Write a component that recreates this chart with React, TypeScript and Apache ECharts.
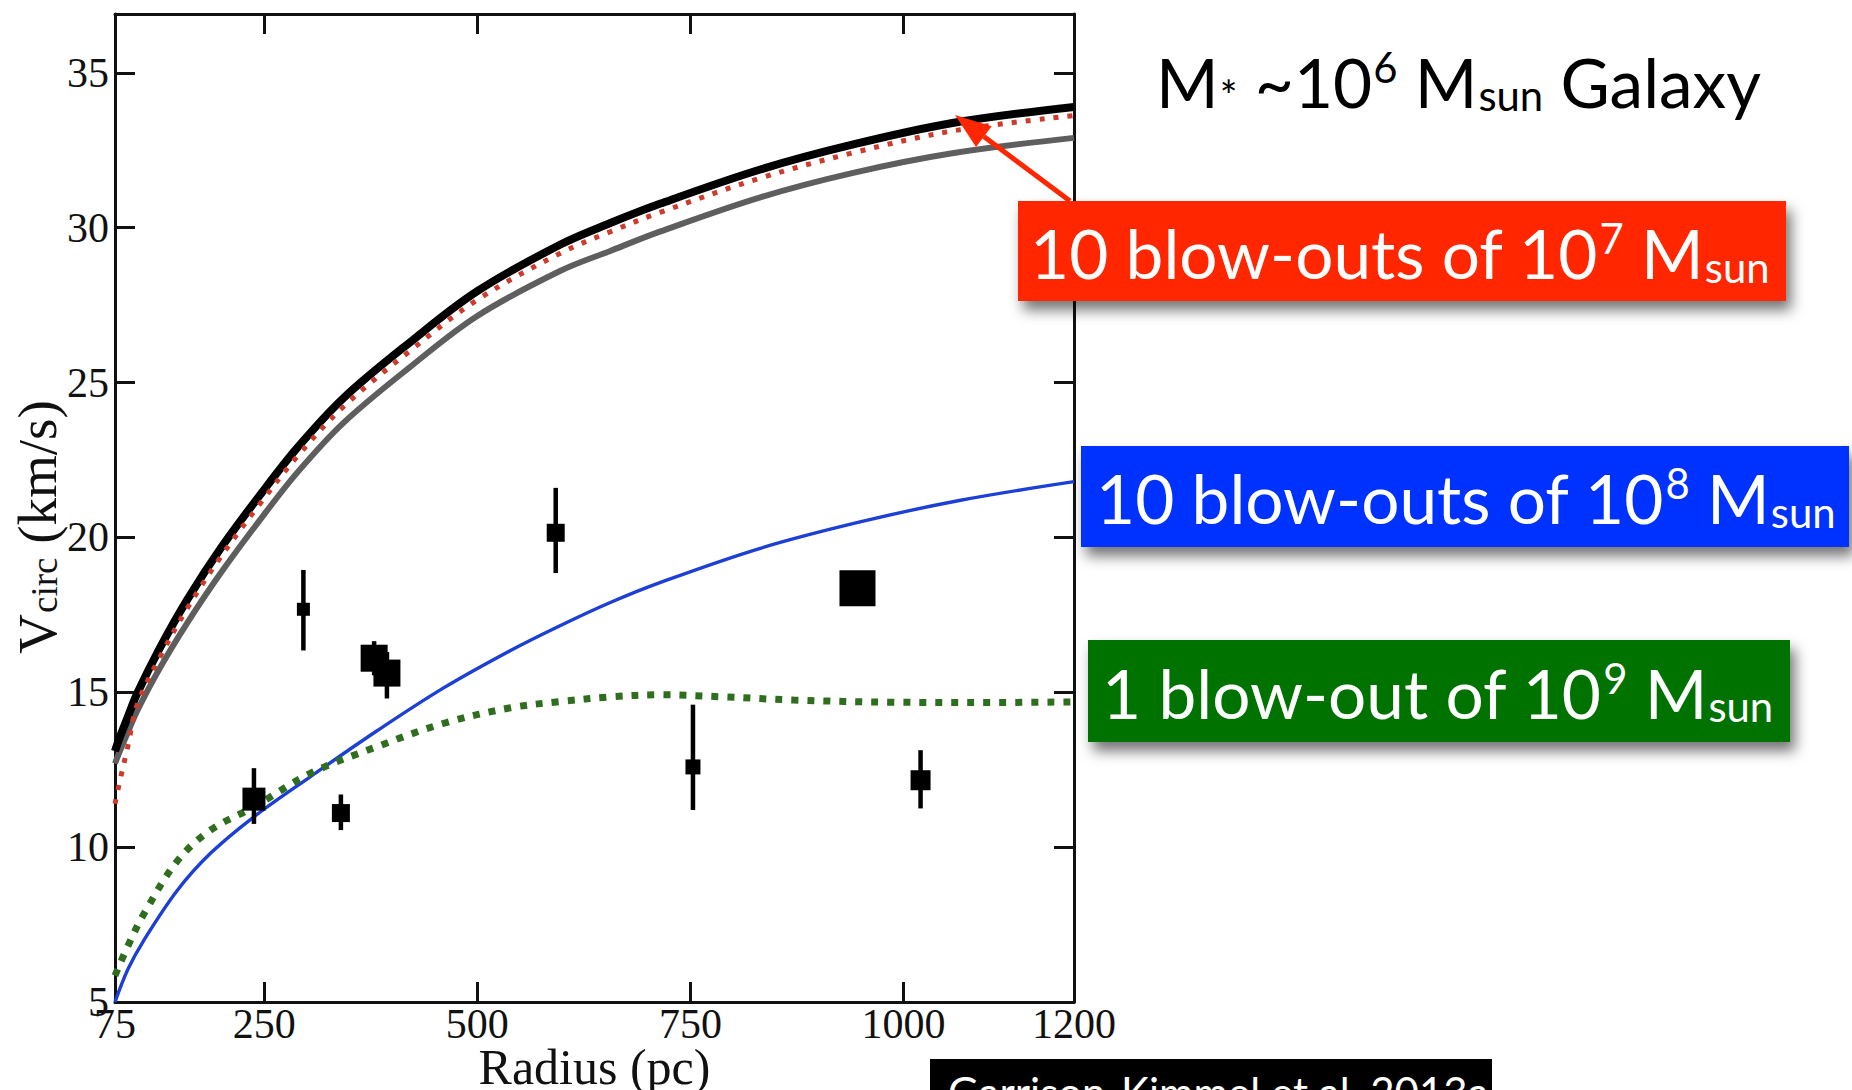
import React, { useEffect, useRef } from "react";
import * as echarts from "echarts";

// ---------------- data ----------------
const RADIUS_PC = [75, 80, 90, 101, 128, 160, 199, 246, 289, 343, 421, 500, 597, 656, 715, 832, 941, 1059, 1200];
const VCIRC_FIDUCIAL = [13.1, 13.5, 14.2, 14.96, 16.45, 18.0, 19.65, 21.4, 22.9, 24.5, 26.3, 27.95, 29.45, 30.15, 30.78, 31.88, 32.69, 33.39, 33.9];
const VCIRC_GRAY = [12.7, 13.05, 13.7, 14.4, 15.8, 17.25, 18.85, 20.6, 22.1, 23.7, 25.5, 27.15, 28.6, 29.25, 29.88, 30.98, 31.77, 32.41, 32.9];
const VCIRC_1E7 = [11.4, 12.05, 13.25, 14.6, 16.15, 17.72, 19.37, 21.12, 22.62, 24.22, 26.02, 27.67, 29.17, 29.87, 30.5, 31.6, 32.42, 33.13, 33.62];

const RADIUS_BLUE = [75, 90, 109, 148, 187, 238, 304, 382, 461, 539, 597, 656, 715, 832, 949, 1067, 1200];
const VCIRC_1E8 = [5.0, 6.05, 7.0, 8.6, 9.8, 10.98, 12.27, 13.75, 15.15, 16.35, 17.15, 17.9, 18.55, 19.65, 20.5, 21.2, 21.8];

const RADIUS_GREEN = [75, 90, 109, 148, 187, 238, 304, 382, 461, 539, 597, 656, 715, 790, 871, 988, 1100, 1200];
const VCIRC_1E9 = [5.85, 6.8, 7.85, 9.55, 10.55, 11.3, 12.38, 13.24, 14.0, 14.5, 14.7, 14.85, 14.92, 14.85, 14.75, 14.68, 14.67, 14.69];

const OBS_R = [238, 296, 379, 394, 340, 592, 753, 946, 1020];
const OBS_V = [11.55, 17.68, 16.1, 15.62, 11.1, 20.15, 12.59, 18.36, 12.16];
const OBS_LO = [10.75, 16.35, 15.55, 14.8, 10.55, 18.85, 11.2, 18.36, 11.25];
const OBS_HI = [12.55, 18.95, 16.65, 16.3, 11.7, 21.6, 14.6, 18.36, 13.13];
const OBS_SIZE = [23, 13, 27, 27, 18, 18, 15, 36, 20];

const X_LABELS = [75, 250, 500, 750, 1000, 1200];
const X_TICKS = [250, 500, 750, 1000];
const Y_LABELS = [5, 10, 15, 20, 25, 30, 35];
const Y_TICKS = [10, 15, 20, 25, 30, 35];

const TITLE_TEXT = "{m|M}{sub|*}{m| ~10}{sup|6}{m| M}{sub|sun}{m| Galaxy}";
const RED_LABEL = "{m|10 blow-outs of 10}{sup|7}{m| M}{sub|sun}";
const BLUE_LABEL = "{m|10 blow-outs of 10}{sup|8}{m| M}{sub|sun}";
const GREEN_LABEL = "{m|1 blow-out of 10}{sup|9}{m| M}{sub|sun}";
const CITATION = "Garrison-Kimmel et al. 2013a";

const SERIF = '"Liberation Serif", "Times New Roman", serif';
const SANS = 'Lato, "Noto Sans", sans-serif';

function pairs(xs: number[], ys: number[]) {
  return xs.map((x, i) => [x, ys[i]]);
}

function slideRich(F: number, color: string) {
  const P = 0.1 * F;
  const S = 0.62 * F;
  return {
    m: { fontSize: F, fontFamily: SANS, fill: color, lineHeight: F, verticalAlign: "top", padding: [P, 0, 0, 0] },
    sup: { fontSize: S, fontFamily: SANS, fill: color, lineHeight: S, verticalAlign: "top", padding: [P - 0.02 * F, 0, 0, 1] },
    sub: { fontSize: S, fontFamily: SANS, fill: color, lineHeight: S, verticalAlign: "top", padding: [0.5 * F, 0, 0, 1] },
  };
}

export default function App() {
  const ref = useRef<HTMLDivElement>(null);

  useEffect(() => {
    if (!ref.current) return;
    const chart = echarts.init(ref.current, undefined, { renderer: "svg" });
    const F = 67.5;
    const top = (capCenter: number) => capCenter - 0.6 * F;

    // arrow geometry (annotation)
    const tipX = 955, tipY = 115, tailX = 1070, tailY = 201;
    const dx = tailX - tipX, dy = tailY - tipY;
    const len = Math.sqrt(dx * dx + dy * dy);
    const ux = dx / len, uy = dy / len;
    const headL = 36, headW = 13;
    const bx = tipX + ux * headL, by = tipY + uy * headL;

    const axisLine = { show: true, lineStyle: { color: "#111", width: 3 } };
    const tickStyle = { color: "#111", width: 3 };
    const plain = (v: number) => String(v);

    const option: any = {
      animation: false,
      backgroundColor: "#ffffff",
      grid: { left: 115, right: 778, top: 14, bottom: 88, containLabel: false, outerBoundsMode: "none" },
      xAxis: [
        {
          type: "value", min: 75, max: 1200, position: "bottom",
          axisLine, splitLine: { show: false },
          axisTick: { show: true, inside: true, length: 20, lineStyle: tickStyle, customValues: X_TICKS },
          axisLabel: { customValues: X_LABELS, formatter: plain, fontFamily: SERIF, fontSize: 42, color: "#111", margin: 1 },
          name: "Radius (pc)", nameLocation: "middle", nameGap: 40, nameMoveOverlap: false,
          nameTextStyle: { fontFamily: SERIF, fontSize: 50, color: "#111" },
        },
        {
          type: "value", min: 75, max: 1200, position: "top",
          axisLine, splitLine: { show: false },
          axisTick: { show: true, inside: true, length: 20, lineStyle: tickStyle, customValues: X_TICKS },
          axisLabel: { show: false },
        },
      ],
      yAxis: [
        {
          type: "value", min: 5, max: 36.9, position: "left",
          axisLine, splitLine: { show: false },
          axisTick: { show: true, inside: true, length: 20, lineStyle: tickStyle, customValues: Y_TICKS },
          axisLabel: { customValues: Y_LABELS, formatter: plain, fontFamily: SERIF, fontSize: 42, color: "#111", margin: 6 },
          name: "{m|V}{s|circ}{e| (km/s)}", nameLocation: "middle", nameGap: 50, nameMoveOverlap: false,
          nameTextStyle: {
            rich: {
              m: { fontFamily: SERIF, fontSize: 55, color: "#111", lineHeight: 55, verticalAlign: "top", padding: [0, 0, 0, 0] },
              s: { fontFamily: SERIF, fontSize: 37, color: "#111", lineHeight: 37, verticalAlign: "top", padding: [16, 0, 0, 1] },
              e: { fontFamily: SERIF, fontSize: 55, color: "#111", lineHeight: 55, verticalAlign: "top", padding: [0, 38, 0, 0] },
            },
          },
        },
        {
          type: "value", min: 5, max: 36.9, position: "right",
          axisLine, splitLine: { show: false },
          axisTick: { show: true, inside: true, length: 20, lineStyle: tickStyle, customValues: Y_TICKS },
          axisLabel: { show: false },
        },
      ],
      series: [
        {
          name: "gray", type: "line", data: pairs(RADIUS_PC, VCIRC_GRAY), showSymbol: false,
          smooth: 0.35, lineStyle: { color: "#5e5e5e", width: 6 }, z: 2,
        },
        {
          name: "fiducial", type: "line", data: pairs(RADIUS_PC, VCIRC_FIDUCIAL), showSymbol: false,
          smooth: 0.35, lineStyle: { color: "#000000", width: 8 }, z: 3,
        },
        {
          name: "10 blow-outs of 1e7", type: "line", data: pairs(RADIUS_PC, VCIRC_1E7), showSymbol: false,
          smooth: 0.35, lineStyle: { color: "#cc3b2b", width: 5, type: [5, 9], cap: "butt" }, z: 4,
        },
        {
          name: "10 blow-outs of 1e8", type: "line", data: pairs(RADIUS_BLUE, VCIRC_1E8), showSymbol: false,
          smooth: 0.35, lineStyle: { color: "#1c3fd6", width: 3.4 }, z: 4,
        },
        {
          name: "1 blow-out of 1e9", type: "line", data: pairs(RADIUS_GREEN, VCIRC_1E9), showSymbol: false,
          smooth: 0.35, lineStyle: { color: "#2f6e1e", width: 7, type: [7, 9], cap: "butt" }, z: 4,
        },
        {
          name: "error bars", type: "custom", z: 5,
          encode: { x: 0, y: [1, 2] },
          data: OBS_R.map((r, i) => [r, OBS_LO[i], OBS_HI[i]]),
          renderItem: (params: any, api: any) => {
            const p1 = api.coord([api.value(0), api.value(1)]);
            const p2 = api.coord([api.value(0), api.value(2)]);
            return {
              type: "line",
              shape: { x1: p1[0], y1: p1[1], x2: p2[0], y2: p2[1] },
              style: { stroke: "#000", lineWidth: 4.5 },
            };
          },
        },
        {
          name: "observed", type: "scatter", z: 6, symbol: "rect",
          data: OBS_R.map((r, i) => [r, OBS_V[i], OBS_SIZE[i]]),
          symbolSize: (v: number[]) => v[2],
          itemStyle: { color: "#000", opacity: 1 },
        },
      ],
      graphic: {
        elements: [
          {
            type: "text", z: 100, x: 1156, y: top(81),
            style: { text: TITLE_TEXT, align: "left", verticalAlign: "top", rich: slideRich(F, "#000") },
          },
          {
            type: "line", z: 100,
            shape: { x1: tailX, y1: tailY, x2: bx, y2: by },
            style: { stroke: "#ff2600", lineWidth: 5 },
          },
          {
            type: "polygon", z: 100,
            shape: { points: [[tipX, tipY], [bx - uy * headW, by + ux * headW], [bx + uy * headW, by - ux * headW]] },
            style: { fill: "#ff2600" },
          },
          {
            type: "rect", z: 100, shape: { x: 1018, y: 201, width: 768, height: 100 },
            style: { fill: "#ff2600", shadowBlur: 14, shadowColor: "rgba(0,0,0,0.55)", shadowOffsetX: 5, shadowOffsetY: 9 },
          },
          {
            type: "text", z: 101, x: 1030, y: top(252.5),
            style: { text: RED_LABEL, align: "left", verticalAlign: "top", rich: slideRich(F, "#ffffff") },
          },
          {
            type: "rect", z: 100, shape: { x: 1081, y: 446, width: 768, height: 101 },
            style: { fill: "#0433ff", shadowBlur: 14, shadowColor: "rgba(0,0,0,0.55)", shadowOffsetX: 5, shadowOffsetY: 9 },
          },
          {
            type: "text", z: 101, x: 1096, y: top(497.5),
            style: { text: BLUE_LABEL, align: "left", verticalAlign: "top", rich: slideRich(F, "#ffffff") },
          },
          {
            type: "rect", z: 100, shape: { x: 1088, y: 640, width: 702, height: 102 },
            style: { fill: "#027200", shadowBlur: 14, shadowColor: "rgba(0,0,0,0.55)", shadowOffsetX: 5, shadowOffsetY: 9 },
          },
          {
            type: "text", z: 101, x: 1102, y: top(692),
            style: { text: GREEN_LABEL, align: "left", verticalAlign: "top", rich: slideRich(F, "#ffffff") },
          },
          {
            type: "rect", z: 100, shape: { x: 930, y: 1059, width: 562, height: 60 },
            style: { fill: "#000000" },
          },
          {
            type: "text", z: 101, x: 948, y: 1092,
            style: { text: CITATION, align: "left", verticalAlign: "middle", fontFamily: SANS, fontSize: 42, fill: "#ffffff" },
          },
        ],
      },
    };

    chart.setOption(option);
    return () => chart.dispose();
  }, []);

  return (
    <div
      ref={ref}
      style={{ position: "fixed", left: 0, top: 0, width: 1852, height: 1090, background: "#fff" }}
    />
  );
}
